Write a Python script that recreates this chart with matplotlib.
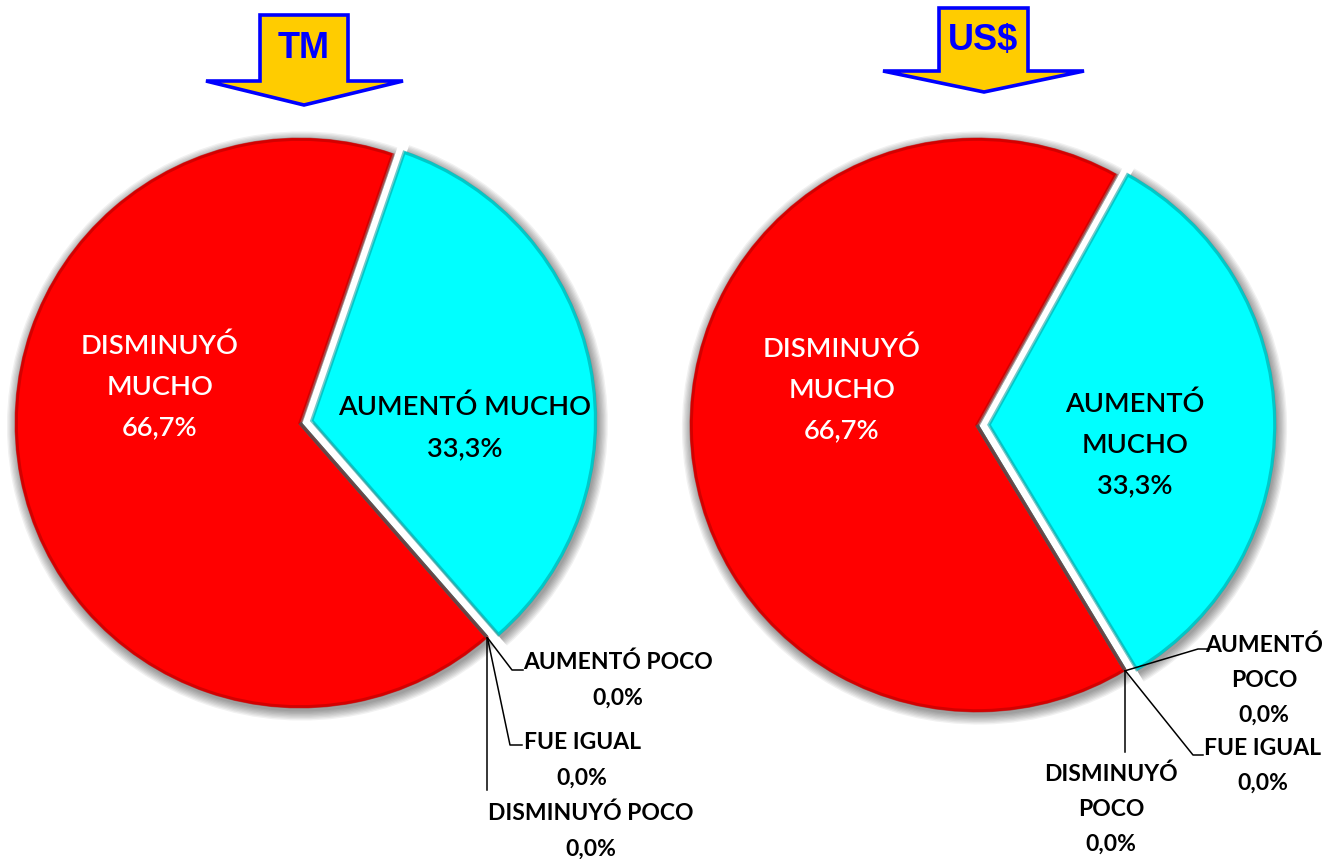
import matplotlib
matplotlib.use('Agg')
import matplotlib.pyplot as plt
import numpy as np
from matplotlib.patches import Polygon

# ---------------- data ----------------
categories = ['AUMENTÓ MUCHO', 'AUMENTÓ POCO', 'FUE IGUAL', 'DISMINUYÓ POCO', 'DISMINUYÓ MUCHO']
tm_values = [33.3, 0.0, 0.0, 0.0, 66.7]
usd_values = [33.3, 0.0, 0.0, 0.0, 66.7]
titles = ['TM', 'US$']

slice_colors = ['#00FFFF', '#00FFFF', '#00FFFF', '#00FFFF', '#FF0000']
rim_colors = ['#009C9C', '#009C9C', '#009C9C', '#009C9C', '#B00000']

W, H = 1330, 859
fig = plt.figure(figsize=(W / 100, H / 100), dpi=100)
ax = fig.add_axes([0, 0, 1, 1])

FONT = ['Lato', 'DejaVu Sans']


def Y(y):
    return H - y


def pct(v):
    return f"{v:.1f}".replace('.', ',') + '%'


def draw_pie(values, cx, cy, r, start, explode_px):
    cy = Y(cy)
    explode = [explode_px if i == 0 else 0 for i in range(len(values))]
    # soft shadow
    for k in range(8):
        rr = r + 0.5 + k * 1.3
        ax.pie(values, explode=explode, center=(cx + 1.5, cy - 3),
               radius=rr, startangle=start, counterclock=False,
               colors=['#000000'] * len(values),
               wedgeprops=dict(alpha=0.055, linewidth=0))
    ax.pie(values, explode=explode, center=(cx, cy), radius=r, startangle=start,
           counterclock=False, colors=slice_colors, wedgeprops=dict(linewidth=0))
    # bevel rim
    wedges, _ = ax.pie(values, explode=explode, center=(cx, cy), radius=r - 1.2,
                       startangle=start, counterclock=False,
                       wedgeprops=dict(linewidth=2.4, fill=False))
    for w, c in zip(wedges, rim_colors):
        w.set_edgecolor(c)
        w.set_alpha(0.55)
    # anchor of zero slices
    theta = np.deg2rad(start - 360 * values[0] / sum(values))
    return cx + r * np.cos(theta), cy + r * np.sin(theta)


def arrow(x0, x1, ytop, yshaft, hx0, hx1, tipx, tipy, text):
    pts = [(x0, ytop), (x1, ytop), (x1, yshaft), (hx1, yshaft), (tipx, tipy),
           (hx0, yshaft), (x0, yshaft)]
    pts = [(x, Y(y)) for x, y in pts]
    ax.add_patch(Polygon(pts, closed=True, facecolor='#FFCC00', edgecolor='#0000FF',
                         linewidth=2.6, joinstyle='miter', zorder=5))
    ax.text((x0 + x1) / 2, Y((ytop + yshaft) / 2 + 1), text, ha='center', va='center',
            fontsize=26, fontweight='bold', color='#0000FF',
            family=['Liberation Sans', 'DejaVu Sans'], zorder=6)


def leader(anchor, pts):
    xs = [anchor[0]] + [p[0] for p in pts]
    ys = [anchor[1]] + [Y(p[1]) for p in pts]
    ax.plot(xs, ys, color='black', lw=1.1, zorder=7)


def label(x, y, s, size=19.6, color='black', ls=1.78, weight=700):
    ax.text(x, Y(y), s, ha='center', va='center', color=color, fontsize=size,
            family=FONT, fontweight=weight, linespacing=ls, zorder=8)


# ---------------- left pie (TM) ----------------
a1 = draw_pie(tm_values, 300, 423, 285, 71, 12)
label(160, 387, f"DISMINUYÓ\nMUCHO\n{pct(tm_values[4])}", color='white', weight=600)
label(465, 428, f"AUMENTÓ MUCHO\n{pct(tm_values[0])}", weight=600)

leader(a1, [(512, 670), (523, 670)])
leader(a1, [(510, 745), (522, 745)])
leader(a1, [(a1[0], 790)])
label(618, 680, f"AUMENTÓ POCO\n{pct(tm_values[1])}", size=16.5, ls=1.85)
label(582, 760, f"FUE IGUAL\n{pct(tm_values[2])}", size=16.5, ls=1.85)
label(591, 831, f"DISMINUYÓ POCO\n{pct(tm_values[3])}", size=16.5, ls=1.85)

# ---------------- right pie (US$) ----------------
a2 = draw_pie(usd_values, 977, 425, 287, 61, 12)
label(842, 390, f"DISMINUYÓ\nMUCHO\n{pct(usd_values[4])}", color='white', weight=600)
label(1135, 445, f"AUMENTÓ\nMUCHO\n{pct(usd_values[0])}", weight=600)

leader(a2, [(1198, 649), (1208, 649)])
leader(a2, [(1193, 755), (1203, 755)])
leader(a2, [(a2[0], 752)])
label(1264, 680, f"AUMENTÓ\nPOCO\n{pct(usd_values[1])}", size=16.5, ls=1.8)
label(1263, 766, f"FUE IGUAL\n{pct(usd_values[2])}", size=16.5, ls=1.8)
label(1111, 809, f"DISMINUYÓ\nPOCO\n{pct(usd_values[3])}", size=16.5, ls=1.8)

# ---------------- arrows ----------------
arrow(260, 348, 15, 81, 206, 403, 304, 105, titles[0])
arrow(939, 1028, 8, 71, 883, 1084, 984, 92, titles[1])

ax.set_xlim(0, W)
ax.set_ylim(0, H)
ax.set_aspect('auto')
ax.axis('off')
fig.savefig('out.png', dpi=100, facecolor='white')
